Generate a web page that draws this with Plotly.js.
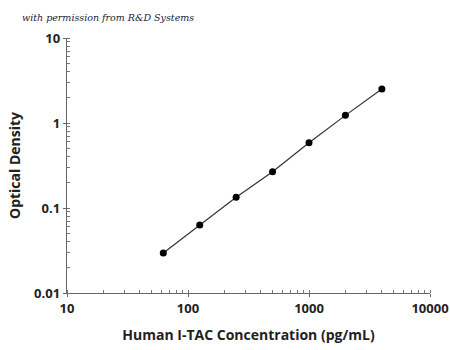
<!DOCTYPE html>
<html><head><meta charset="utf-8">
<script src="https://cdn.plot.ly/plotly-3.0.1.min.js"></script>
<style>html,body{margin:0;padding:0;background:#fff}#chart{width:450px;height:350px}</style>
</head><body><div id="chart"></div>
<script>
const concentration = [62.5, 125, 250, 500, 1000, 2000, 4000];
const opticalDensity = [0.0295, 0.063, 0.134, 0.267, 0.586, 1.23, 2.51];
const xTickVals = [10, 100, 1000, 10000];
const xTickText = ["10", "100", "1000", "10000"];
const yTickVals = [0.01, 0.1, 1, 10];
const yTickText = ["0.01", "0.1", "1", "10"];

const trace = {
  x: concentration, y: opticalDensity, type: 'scatter', mode: 'lines+markers',
  line: {color: '#333', width: 1.2},
  marker: {color: '#000', size: 7},
  hoverinfo: 'skip'
};
const axFont = {family: 'Open Sans, sans-serif', size: 13, color: '#222', weight: 'bold'};
const minorTicks = {ticks: 'inside', ticklen: 3, tickcolor: '#777', tickwidth: 1, showgrid: false, dtick: 'D1'};
const layout = {
  width: 450, height: 350,
  margin: {l: 67, r: 20, t: 38, b: 57},
  paper_bgcolor: '#fff', plot_bgcolor: '#fff',
  showlegend: false,
  xaxis: {
    type: 'log', range: [1, 4],
    tickvals: xTickVals, ticktext: xTickText,
    showline: true, linecolor: '#666', linewidth: 1.3,
    ticks: 'outside', ticklen: 3, tickcolor: '#666',
    minor: minorTicks,
    showgrid: false, zeroline: false,
    tickfont: axFont,
    title: {text: 'Human I-TAC Concentration (pg/mL)', font: {family: 'Open Sans, sans-serif', size: 14, color: '#222', weight: 'bold'}, standoff: 14}
  },
  yaxis: {
    type: 'log', range: [-2, 1],
    tickvals: yTickVals, ticktext: yTickText,
    showline: true, linecolor: '#666', linewidth: 1.3,
    ticks: 'outside', ticklen: 3, tickcolor: '#666',
    minor: minorTicks,
    showgrid: false, zeroline: false,
    tickfont: axFont,
    title: {text: 'Optical Density', font: {family: 'Open Sans, sans-serif', size: 14, color: '#222', weight: 'bold'}, standoff: 10}
  },
  annotations: [{
    text: 'with permission from R&amp;D Systems', xref: 'paper', yref: 'paper',
    x: -0.13, y: 1.0, xanchor: 'left', yanchor: 'bottom', yshift: 13, showarrow: false,
    font: {family: 'DejaVu Serif, serif', size: 9.5, color: '#1a1a3a', style: 'italic'}
  }]
};
Plotly.newPlot('chart', [trace], layout, {displayModeBar: false, staticPlot: true});
</script></body></html>
